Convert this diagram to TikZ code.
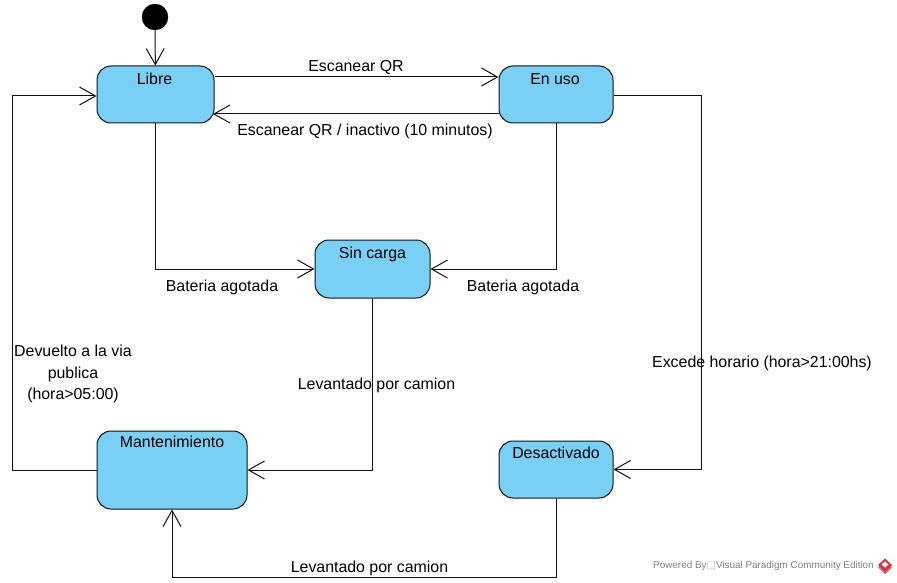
\documentclass[tikz,border=0pt]{standalone}
\usepackage{fontspec}
\setmainfont{Liberation Sans}
\newfontfamily\symfont{DejaVu Sans}
\usetikzlibrary{arrows.meta}
\definecolor{statefill}{HTML}{7ACFF5}
\definecolor{statedraw}{HTML}{111111}
\definecolor{wm}{HTML}{808080}
\definecolor{logored}{HTML}{D2353F}
\newcommand{\toptext}[2]{\raisebox{#1}[0pt][0pt]{#2}}
\tikzset{
  x=1pt,y=-1pt,
  statebox/.style={draw=statedraw,fill=statefill,line width=1pt,rounded corners=14pt,inner sep=0pt,minimum width=#1,font=\fontsize{15.9pt}{18pt}\selectfont},
  startdot/.style={circle,fill=black,draw=black,minimum size=26pt,inner sep=0pt},
  conn/.style={draw=statedraw,line width=1pt,-{Straight Barb[length=16pt,width=18pt,line width=1pt]}},
  lab/.style={font=\fontsize{15.9pt}{21.2pt}\selectfont,inner sep=0pt,align=center,text=black},
}
\begin{document}
\begin{tikzpicture}
\useasboundingbox (0,0) rectangle (897,583);
\node[startdot] (start) at (155,17) {};
\node[statebox=117pt,minimum height=57pt] (lib) at (155.5,94.5) {\hspace{-2pt}\toptext{10pt}{Libre}};
\node[statebox=114pt,minimum height=57pt] (uso) at (556,94.5) {\hspace{-2pt}\toptext{10pt}{En uso}};
\node[statebox=115pt,minimum height=58pt] (sin) at (372.5,269) {\toptext{11pt}{Sin carga}};
\node[statebox=150pt,minimum height=78pt] (man) at (172,470) {\toptext{23pt}{Mantenimiento}};
\node[statebox=114pt,minimum height=57pt] (des) at (556,469.5) {\toptext{11pt}{Desactivado}};
\coordinate (a1) at (12.5,469);
\coordinate (a2) at (701.5,96);
\coordinate (a3) at (172,577);
\draw[conn] (start) -- (lib);
\draw[conn] ([yshift=17.5pt]lib.east) -- ([yshift=17.5pt]uso.west);
\draw[conn] ([yshift=-19.5pt]uso.west) -- ([xshift=-1.5pt,yshift=-19.5pt]lib.east);
\draw[conn] (lib.south) |- (sin.west);
\draw[conn] (uso.south) |- (sin.east);
\draw[conn] (sin.south) |- (man.east);
\draw[conn] (man.west) -| (a1) |- ([yshift=-1.5pt]lib.west);
\draw[conn] ([yshift=-1.5pt]uso.east) -| (a2) |- (des.east);
\draw[conn] (des.south) |- (a3) -- (man.south);
\node[lab] (t1) at (356,67) {Escanear QR};
\node[lab] (t2) at (365,131) {Escanear QR / inactivo (10 minutos)};
\node[lab] (t3) at (222,287) {Bateria agotada};
\node[lab] (t4) at (523,287) {Bateria agotada};
\node[lab] (t5) at (73,374) {Devuelto a la via\\publica\\(hora>05:00)};
\node[lab] (t6) at (376.5,385) {Levantado por camion};
\node[lab] (t7) at (762,363) {Excede horario (hora>21:00hs)};
\node[lab] (t8) at (369.5,568) {Levantado por camion};
\node[font=\fontsize{9.9pt}{12pt}\selectfont,text=wm,inner sep=0pt,anchor=west] (wmk) at (653,566) {Powered By{\symfont\fontsize{10pt}{12pt}\selectfont\color{lightgray}□}Visual Paradigm Community Edition};
\fill[logored!70!white] (885,561) -- (892,567.5) -- (885,574.5) -- (878,567.5) -- cycle;
\fill[logored] (885,558.5) -- (892,565) -- (885,572) -- (878,565) -- cycle;
\fill[white] (885,561.5) -- (888.5,564.5) -- (885,567.5) -- (881.5,564.5) -- cycle;
\end{tikzpicture}
\end{document}
